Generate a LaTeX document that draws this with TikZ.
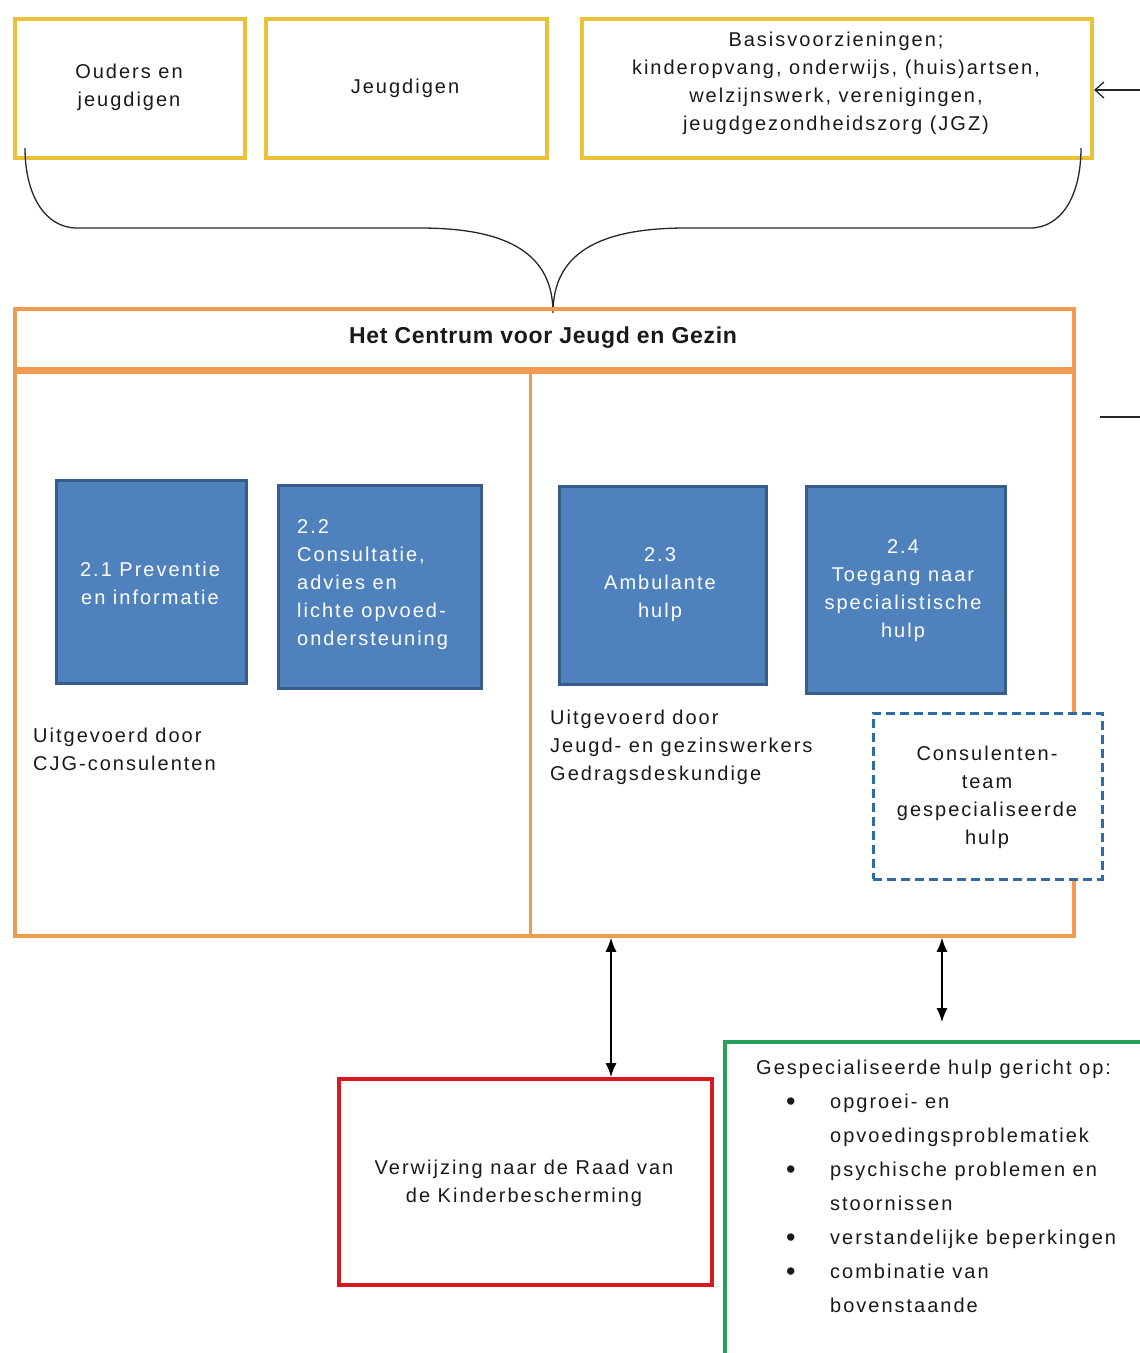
\documentclass[tikz,border=0pt]{standalone}
\usepackage{fontspec}
\setmainfont{Liberation Sans}[LetterSpace=10]
\newfontfamily\hdfont{Liberation Sans}[LetterSpace=3]
\newfontfamily\plainfont{Liberation Sans}
\usetikzlibrary{arrows.meta,calc}
\definecolor{ycol}{HTML}{E9C13B}
\definecolor{ocol}{HTML}{F29A50}
\definecolor{bfill}{HTML}{4F81BD}
\definecolor{bdraw}{HTML}{385D8A}
\definecolor{dcol}{HTML}{2E6DA4}
\definecolor{rcol}{HTML}{D9181F}
\definecolor{gcol}{HTML}{27A05A}
\newcommand{\bigbul}{\makebox[44pt][l]{\raisebox{-1.5pt}{\plainfont\fontsize{27}{27}\selectfont\textbullet}}}
\begin{document}
\begin{tikzpicture}[x=1pt,y=-1pt,
  txt/.style={inner sep=0pt, align=center, font=\fontsize{20}{28}\selectfont, text=black!90},
  wtxt/.style={txt, text=white},
  ybox/.style={draw=ycol, line width=4pt, minimum height=139pt, inner sep=0pt},
  bbox/.style={fill=bfill, draw=bdraw, line width=3pt, inner sep=0pt},
  obox/.style={draw=ocol, line width=3.5pt, inner sep=0pt},
  dbox/.style={draw=dcol, fill=white, line width=3pt, dash pattern=on 9pt off 5pt, inner sep=0pt},
  dbl/.style={{Latex[length=14pt,width=11pt]}-{Latex[length=14pt,width=11pt]}, line width=1.3pt},
  thinline/.style={line width=1.3pt, draw=black!85}
]
\useasboundingbox (0,0) rectangle (1140,1353);
\clip (0,0) rectangle (1140,1353);

% top yellow boxes
\node[ybox, minimum width=230pt] (y1) at (130,88.5) {};
\node[ybox, minimum width=281pt] (y2) at (406.5,88.5) {};
\node[ybox, minimum width=510pt] (y3) at (837,88.5) {};
\node[txt] (y1t) at (129,87) {Ouders en\\jeugdigen};
\node[txt] (y2t) at (405,88) {Jeugdigen};
\node[txt] (y3t) at (836,83) {Basisvoorzieningen;\\kinderopvang, onderwijs, (huis)artsen,\\welzijnswerk, verenigingen,\\jeugdgezondheidszorg (JGZ)};

% arrow into box 3
\coordinate (rin) at (1140,90);
\draw[thinline, -{Straight Barb[length=9pt,width=16pt]}] (rin) -- (rin -| y3.east);

% brace
\coordinate (bl) at (25,148);
\coordinate (br) at (1081,148);
\coordinate (tip) at (553,313);
\draw[thinline] (bl) .. controls (25,195) and (45,228) .. (77,228) -- (420,228)
  .. controls (510,228) and (553,255) .. (tip)
  .. controls (553,255) and (596,228) .. (686,228) -- (1030,228)
  .. controls (1062,228) and (1081,195) .. (br);

% orange centre
\node[obox, minimum width=1059pt, minimum height=627pt] (cjg) at (544.5,622.5) {};
\node[txt, font=\hdfont\fontsize{23}{26}\selectfont\bfseries] (cjgt) at (543,338) {Het Centrum voor Jeugd en Gezin};
\coordinate (hl) at (cjg.west |- 0,370.5);
\coordinate (hr) at (cjg.east |- 0,370.5);
\draw[draw=ocol, line width=7pt] (hl) -- (hr);
\coordinate (dtop) at (530.5,372);
\draw[draw=ocol, line width=3.5pt] (dtop) -- (dtop |- cjg.south);

% side line at right
\coordinate (sa) at (1100,417);
\coordinate (sb) at (1140,417);
\draw[thinline] (sa) -- (sb);

% blue boxes
\node[bbox, minimum width=190pt, minimum height=203pt] (b1) at (151,581.5) {};
\node[bbox, minimum width=203pt, minimum height=203pt] (b2) at (379.5,586.5) {};
\node[bbox, minimum width=207pt, minimum height=198pt] (b3) at (662.5,585) {};
\node[bbox, minimum width=199pt, minimum height=207pt] (b4) at (905.5,589.5) {};
\node[wtxt] (b1t) at (150,583) {2.1 Preventie\\en informatie};
\node[wtxt, align=left, anchor=west] (b2t) at (297,585) {2.2\\Consultatie,\\advies en\\lichte opvoed-\\ondersteuning};
\node[wtxt] (b3t) at (660,585) {2.3\\Ambulante\\hulp};
\node[wtxt] (b4t) at (903,591) {2.4\\Toegang naar\\specialistische\\hulp};

% executed-by texts
\node[txt, align=left, anchor=west] (l1) at (33,749.5) {Uitgevoerd door\\CJG-consulenten};
\node[txt, align=left, anchor=west] (l2) at (550,747) {Uitgevoerd door\\Jeugd- en gezinswerkers\\Gedragsdeskundige};

% dashed box
\node[dbox, minimum width=229pt, minimum height=166pt] (team) at (987.5,796) {};
\node[txt] (teamt) at (987,797) {Consulenten-\\team\\gespecialiseerde\\hulp};

% red box
\node[draw=rcol, line width=4pt, minimum width=373pt, minimum height=206pt, inner sep=0pt] (raad) at (525.5,1182) {};
\node[txt] (raadt) at (524,1183) {Verwijzing naar de Raad van\\de Kinderbescherming};

% green box
\node[draw=gcol, line width=3.5pt, minimum width=435pt, minimum height=338pt, inner sep=0pt] (spec) at (942.5,1211) {};
\node[txt, align=left, anchor=west, font=\fontsize{20}{34}\selectfont] (spect) at (756,1186.5) {Gespecialiseerde hulp gericht op:\\
\hspace*{30pt}\bigbul opgroei- en\\
\hspace*{74pt}opvoedingsproblematiek\\
\hspace*{30pt}\bigbul psychische problemen en\\
\hspace*{74pt}stoornissen\\
\hspace*{30pt}\bigbul verstandelijke beperkingen\\
\hspace*{30pt}\bigbul combinatie van\\
\hspace*{74pt}bovenstaande};

% double arrows
\coordinate (g1) at (942,1022);
\draw[dbl] (611,0 |- cjg.south) -- (611,0 |- raad.north);
\draw[dbl] (942,0 |- cjg.south) -- (g1);
\end{tikzpicture}
\end{document}
